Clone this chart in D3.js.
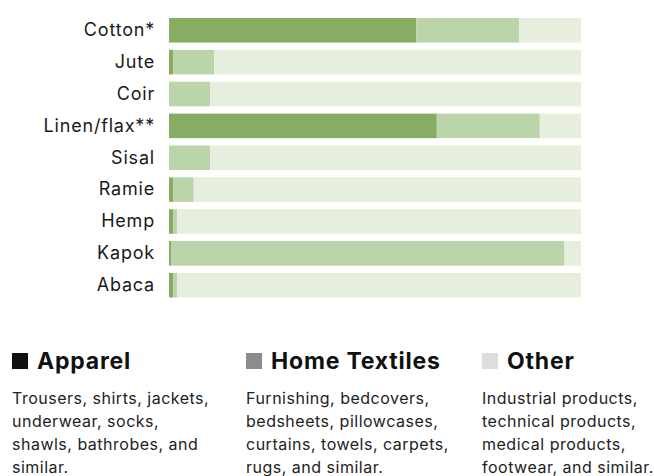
<!DOCTYPE html>
<html>
<head>
<meta charset="utf-8">
<script src="https://cdn.jsdelivr.net/npm/d3@7/dist/d3.min.js"></script>
<style>
  html, body { margin: 0; padding: 0; background: #fff; }
  svg { display: block; font-family: Inter, "Noto Sans", sans-serif; }
</style>
</head>
<body>
<svg id="chart" width="654" height="476"></svg>
<script>
// Share of each fibre's end use, in percent
const fibres = ["Cotton*", "Jute", "Coir", "Linen/flax**", "Sisal", "Ramie", "Hemp", "Kapok", "Abaca"];
const apparel = [60, 1, 0, 65, 0, 1, 1, 0.5, 1];
const homeTextiles = [25, 10, 10, 25, 10, 5, 1, 95.5, 1];
const other = fibres.map((_, i) => 100 - apparel[i] - homeTextiles[i]);

const seriesKeys = ["Apparel", "Home Textiles", "Other"];
const seriesColors = ["#86ad63", "#bcd4a9", "#e6eedd"];
const legendColors = ["#111111", "#8c8c8c", "#dddddd"];
const legendText = [
  ["Trousers, shirts, jackets,", "underwear, socks,", "shawls, bathrobes, and", "similar."],
  ["Furnishing, bedcovers,", "bedsheets, pillowcases,", "curtains, towels, carpets,", "rugs, and similar."],
  ["Industrial products,", "technical products,", "medical products,", "footwear, and similar."]
];

const rows = fibres.map((f, i) => ({
  fibre: f,
  "Apparel": apparel[i],
  "Home Textiles": homeTextiles[i],
  "Other": other[i]
}));

const svg = d3.select("#chart");

const x = d3.scaleLinear().domain([0, 100]).range([169, 581]);
const y = d3.scaleBand().domain(fibres).range([18, 297.5]).paddingInner(0.23).paddingOuter(0);
const color = d3.scaleOrdinal().domain(seriesKeys).range(seriesColors);

const stack = d3.stack().keys(seriesKeys)(rows);

svg.append("g")
  .selectAll("g")
  .data(stack)
  .join("g")
  .attr("fill", d => color(d.key))
  .selectAll("rect")
  .data(d => d)
  .join("rect")
  .attr("x", d => x(d[0]))
  .attr("y", d => y(d.data.fibre))
  .attr("width", d => Math.max(0, x(d[1]) - x(d[0])))
  .attr("height", y.bandwidth());

// Category axis on the left, labels only
const yAxis = svg.append("g")
  .attr("transform", "translate(161,0)")
  .call(d3.axisLeft(y).tickSize(0).tickPadding(6));
yAxis.select(".domain").remove();
yAxis.selectAll("text")
  .attr("font-family", "Inter, 'Noto Sans', sans-serif")
  .attr("font-size", 18)
  .attr("letter-spacing", 0.8)
  .attr("fill", "#1a1a1a");

// Legend with descriptions
const colX = [12, 246, 482];
const legend = svg.append("g")
  .selectAll("g")
  .data(seriesKeys)
  .join("g")
  .attr("transform", (d, i) => `translate(${colX[i]},0)`);

legend.append("rect")
  .attr("x", 0).attr("y", 353)
  .attr("width", 16).attr("height", 16)
  .attr("fill", (d, i) => legendColors[i]);

legend.append("text")
  .attr("x", 25).attr("y", 369)
  .attr("font-size", 23)
  .attr("font-weight", 700)
  .attr("letter-spacing", 0.8)
  .attr("fill", "#111")
  .text(d => d);

legend.append("g")
  .selectAll("text")
  .data((d, i) => legendText[i])
  .join("text")
  .attr("x", 0)
  .attr("y", (d, j) => 404 + j * 23)
  .attr("font-size", 16)
  .attr("letter-spacing", 0.5)
  .attr("fill", "#222")
  .text(d => d);
</script>
</body>
</html>
